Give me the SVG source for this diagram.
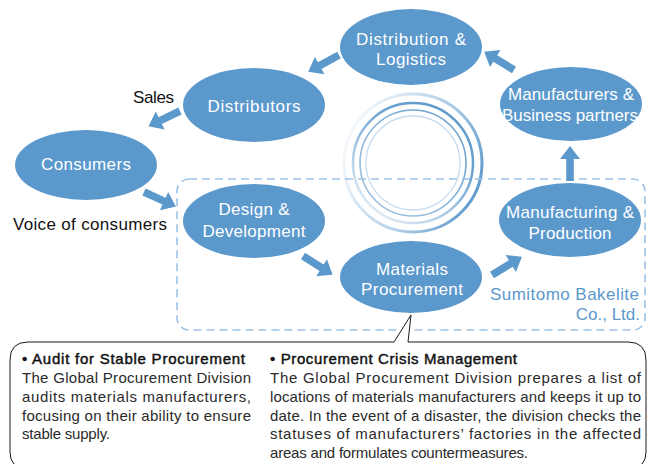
<svg xmlns="http://www.w3.org/2000/svg" width="648" height="464" viewBox="0 0 648 464">
<style>
.node{fill:#5b98cc}
.nt{font-family:"Liberation Sans",Arial,sans-serif;font-size:17px;fill:#ffffff;text-anchor:middle}
.lbl{font-family:"Liberation Sans",Arial,sans-serif;font-size:17px;fill:#111111}
.co{font-family:"Liberation Sans",Arial,sans-serif;font-size:17px;fill:#5b98cc;text-anchor:end}
.hd{font-family:"Liberation Sans",Arial,sans-serif;font-size:15px;fill:#111111;stroke:#111111;stroke-width:0.45}
.bd{font-family:"Liberation Sans",Arial,sans-serif;font-size:15px;fill:#2a2a2a}
.arr{fill:#5b98cc}
</style>
<defs>
<path id="ar" d="M0,-3.8 L22,-3.8 L22,-10 L35,0 L22,10 L22,3.8 L0,3.8 Z"/>
<linearGradient id="g1" x1="0" y1="0.3" x2="1" y2="0.7">
<stop offset="0" stop-color="#5b98cc" stop-opacity="0.05"/>
<stop offset="0.6" stop-color="#5b98cc" stop-opacity="0.5"/>
<stop offset="1" stop-color="#5b98cc" stop-opacity="1"/>
</linearGradient>
<linearGradient id="g2" x1="0.1" y1="1" x2="0.8" y2="0">
<stop offset="0" stop-color="#5b98cc" stop-opacity="0.1"/>
<stop offset="0.7" stop-color="#5b98cc" stop-opacity="0.9"/>
<stop offset="1" stop-color="#5b98cc" stop-opacity="1"/>
</linearGradient>
<linearGradient id="g3" x1="0" y1="1" x2="1" y2="0">
<stop offset="0" stop-color="#5b98cc" stop-opacity="0.55"/>
<stop offset="1" stop-color="#5b98cc" stop-opacity="0.95"/>
</linearGradient>
</defs>
<rect width="648" height="464" fill="#ffffff"/>

<g id="rings" fill="none">
<circle cx="413" cy="163" r="69" stroke="url(#g1)" stroke-width="3"/>
<circle cx="413" cy="163" r="60" stroke="url(#g2)" stroke-width="2.5"/>
<circle cx="413" cy="163" r="53" stroke="url(#g3)" stroke-width="1.6"/>
<circle cx="413" cy="163" r="47" stroke="#c9dcef" stroke-width="1.3"/>
</g>

<g id="company">
<rect x="177" y="179" width="468" height="151" rx="12" fill="none" stroke="#9ec3e6" stroke-width="1.6" stroke-dasharray="8 5"/>
<text class="co" x="639" y="300" textLength="149">Sumitomo Bakelite</text>
<text class="co" x="640" y="320">Co., Ltd.</text>
</g>

<g id="distribution">
<ellipse class="node" cx="411" cy="47" rx="71" ry="38"/>
<text class="nt" x="411" y="45" textLength="110">Distribution &amp;</text>
<text class="nt" x="411" y="65" textLength="70">Logistics</text>
</g>
<g id="manufacturers">
<ellipse class="node" cx="571" cy="104" rx="71" ry="37"/>
<text class="nt" x="571" y="100" textLength="126">Manufacturers &amp;</text>
<text class="nt" x="570" y="121" textLength="136">Business partners</text>
</g>
<g id="distributors">
<ellipse class="node" cx="254" cy="105" rx="71" ry="37"/>
<text class="nt" x="254" y="112" textLength="93">Distributors</text>
</g>
<g id="consumers">
<ellipse class="node" cx="86" cy="165" rx="71" ry="35"/>
<text class="nt" x="86" y="170" textLength="90">Consumers</text>
</g>
<g id="design">
<ellipse class="node" cx="254" cy="221" rx="71" ry="37"/>
<text class="nt" x="254" y="215" textLength="71">Design &amp;</text>
<text class="nt" x="254" y="237" textLength="103">Development</text>
</g>
<g id="materials">
<ellipse class="node" cx="411" cy="277" rx="71" ry="36"/>
<text class="nt" x="412" y="275" textLength="72">Materials</text>
<text class="nt" x="412" y="295" textLength="102">Procurement</text>
</g>
<g id="manufacturing">
<ellipse class="node" cx="570" cy="220" rx="71" ry="37"/>
<text class="nt" x="570" y="218" textLength="128">Manufacturing &amp;</text>
<text class="nt" x="570" y="239" textLength="83">Production</text>
</g>

<g id="connectors" class="arr">
<use href="#ar" transform="translate(339,55) rotate(151.3)"/>
<use href="#ar" transform="translate(514,70) rotate(211.6)"/>
<use href="#ar" transform="translate(180,111) rotate(154.1)"/>
<use href="#ar" transform="translate(144,192) rotate(24.4)"/>
<use href="#ar" transform="translate(303,256) rotate(32.3)"/>
<use href="#ar" transform="translate(492,275) rotate(-31.3)"/>
<use href="#ar" transform="translate(570,181) rotate(-90)"/>
</g>

<g id="labels">
<text class="lbl" x="133" y="103" textLength="41">Sales</text>
<text class="lbl" x="13" y="230" textLength="154">Voice of consumers</text>
</g>

<g id="callout">
<path d="M394,342 L411,315 L408,342 L628,342 Q646,342 646,360 L646,452 Q646,468 630,468 L26,468 Q10,468 10,452 L10,360 Q10,342 28,342 Z" fill="#ffffff" stroke="#1a1a1a" stroke-width="1"/>
<text class="hd" x="22" y="363.5" textLength="223">• Audit for Stable Procurement</text>
<text class="bd" x="22" y="383" textLength="229">The Global Procurement Division</text>
<text class="bd" x="22" y="402" textLength="229">audits materials manufacturers,</text>
<text class="bd" x="22" y="420.5" textLength="229">focusing on their ability to ensure</text>
<text class="bd" x="22" y="439" textLength="88">stable supply.</text>
<text class="hd" x="270" y="363.5" textLength="247">• Procurement Crisis Management</text>
<text class="bd" x="270" y="383" textLength="371">The Global Procurement Division prepares a list of</text>
<text class="bd" x="270" y="402" textLength="371">locations of materials manufacturers and keeps it up to</text>
<text class="bd" x="270" y="420.5" textLength="371">date. In the event of a disaster, the division checks the</text>
<text class="bd" x="270" y="439" textLength="371">statuses of manufacturers’ factories in the affected</text>
<text class="bd" x="270" y="457.5" textLength="258">areas and formulates countermeasures.</text>
</g>
</svg>
